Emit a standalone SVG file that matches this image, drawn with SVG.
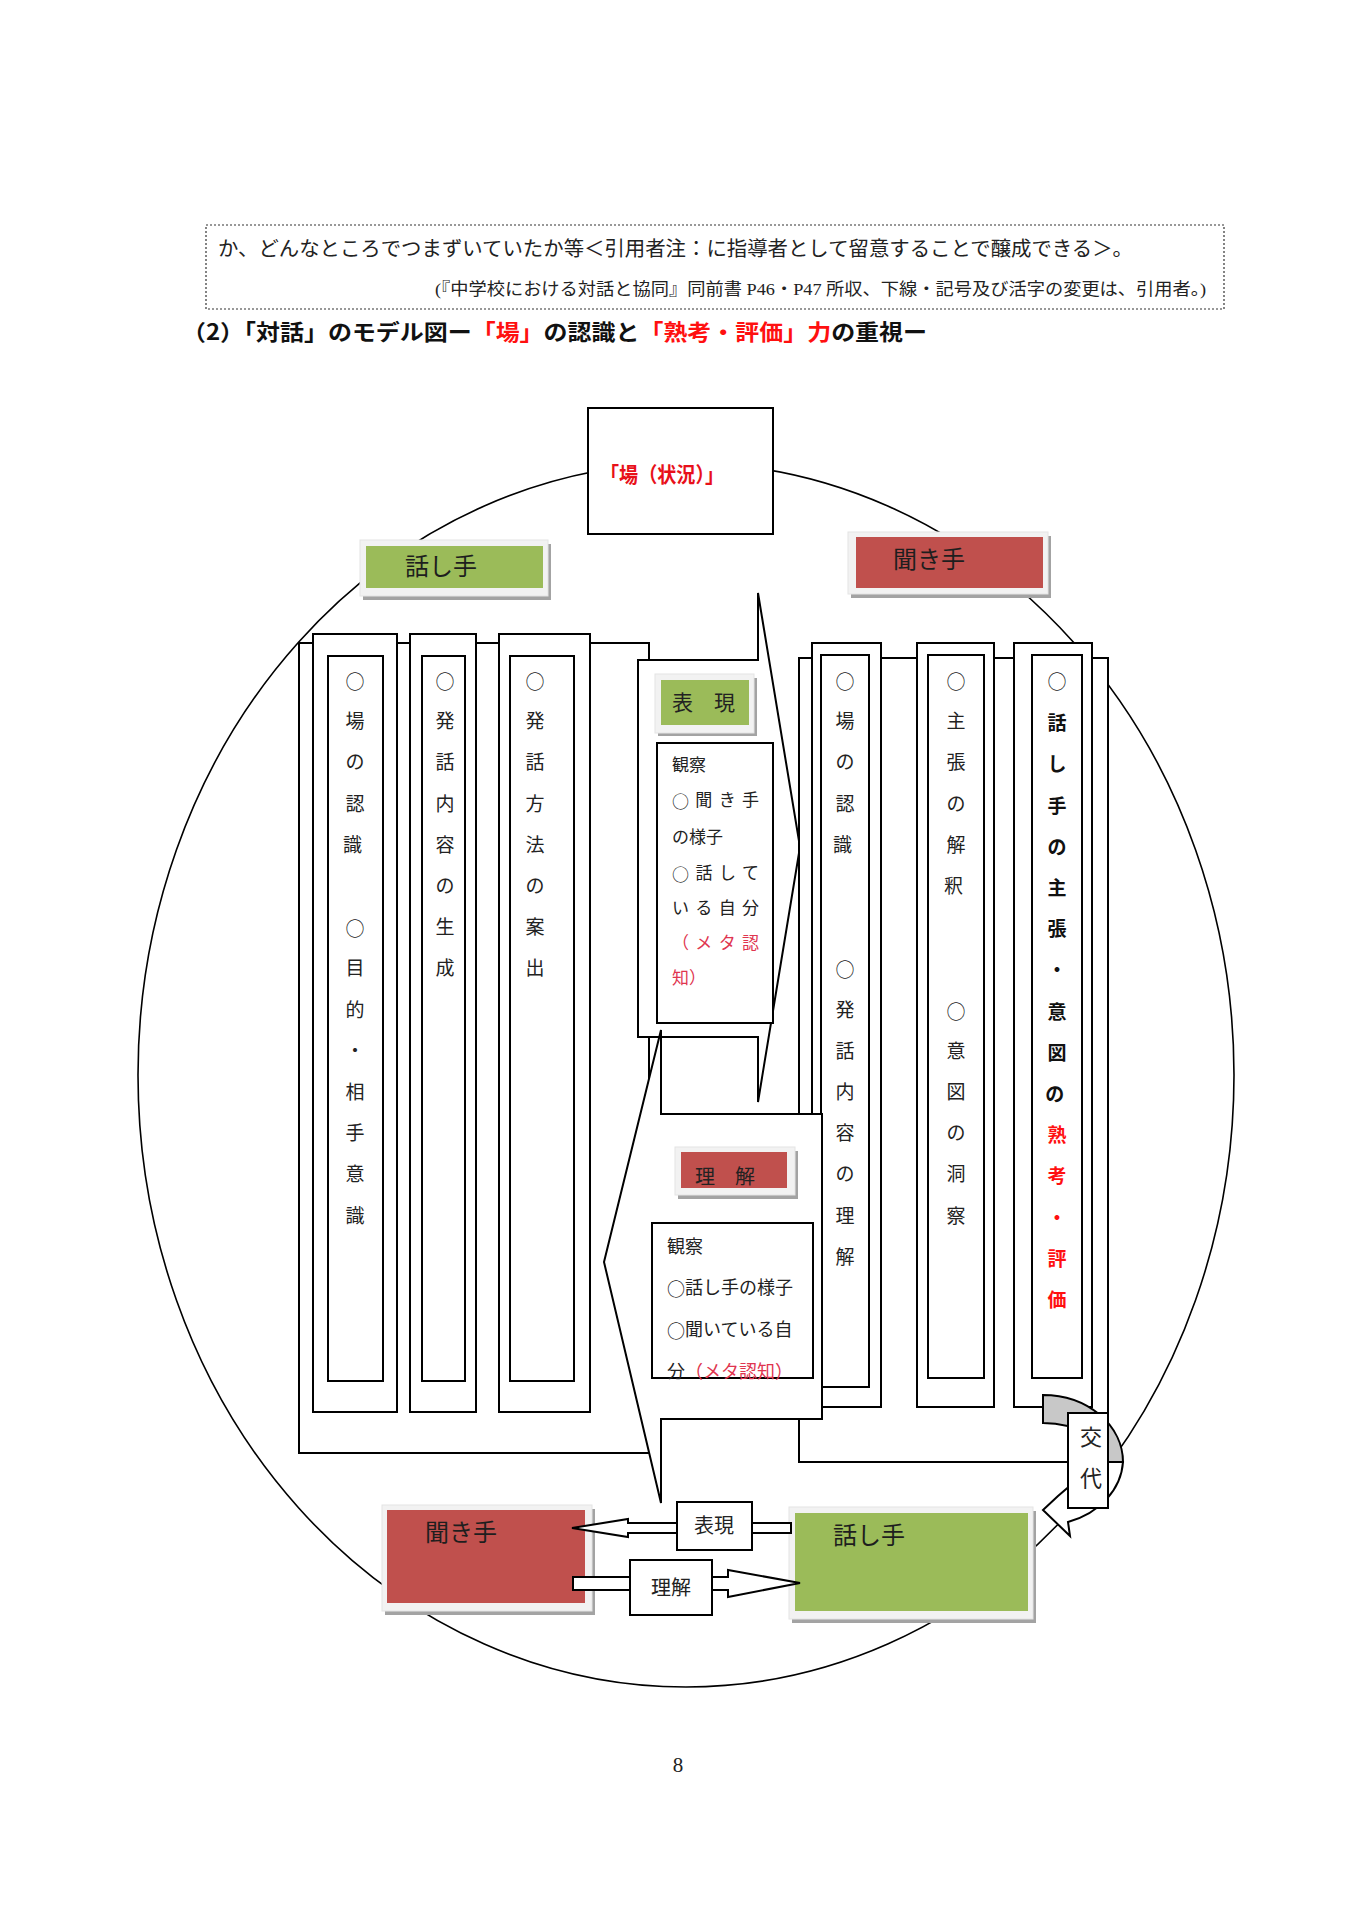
<svg xmlns="http://www.w3.org/2000/svg" width="1358" height="1920" viewBox="0 0 1358 1920">
<style>
.bg{fill:#fff}
.ln{fill:#fff;stroke:#000;stroke-width:2}
.mn{font-family:'Liberation Serif','Noto Sans CJK JP',serif;fill:#222}
.gb{font-family:'Noto Sans CJK JP','Liberation Sans',sans-serif;font-weight:700}
.cj{font-family:'Noto Sans CJK JP',sans-serif;font-weight:400}
.v{font-size:19px;text-anchor:middle;dominant-baseline:central}
.lbl{font-size:24px;dominant-baseline:central;fill:#1e1e1e}
.obs{font-size:17px;dominant-baseline:central}
.obs2{font-size:18px;dominant-baseline:central}
.red{fill:#ff1010}
.pk{fill:#e0354f}
.shadow{fill:#a3a3a3}
.frame{fill:#f2f2f2;stroke:#e4e4e4;stroke-width:1}
.gr{fill:#9bbb59}
.rd{fill:#c0504d}
</style>
<rect class="bg" x="0" y="0" width="1358" height="1920"/>

<g id="quote-box">
<rect x="206" y="225" width="1018" height="84" fill="none" stroke="#333" stroke-width="1.2" stroke-dasharray="2 2"/>
<text class="mn" x="218" y="256" font-size="20" textLength="915" lengthAdjust="spacingAndGlyphs">か、どんなところでつまずいていたか等＜引用者注：に指導者として留意することで醸成できる＞。</text>
<text class="mn" x="1206" y="295" font-size="17" text-anchor="end" textLength="771" lengthAdjust="spacingAndGlyphs">(『中学校における対話と協同』同前書 P46・P47 所収、下線・記号及び活字の変更は、引用者。)</text>
</g>

<g id="heading">
<text class="gb" x="182" y="340" font-size="22" fill="#111" textLength="745" lengthAdjust="spacingAndGlyphs">（2）「対話」のモデル図ー<tspan class="red">「場」</tspan>の認識と<tspan class="red">「熟考・評価」力</tspan>の重視ー</text>
</g>

<g id="circle">
<ellipse cx="686" cy="1075" rx="548" ry="612" fill="none" stroke="#000" stroke-width="1.6"/>
</g>

<g id="place-box">
<rect class="ln" x="588" y="408" width="185" height="126"/>
<text class="gb" x="600" y="473" font-size="21" fill="#e8101a" dominant-baseline="central" textLength="124" lengthAdjust="spacingAndGlyphs">「場（状況）」</text>
</g>

<g id="label-speaker-top">
<rect class="shadow" x="363" y="544" width="188" height="56"/>
<rect class="frame" x="360" y="540" width="188" height="56"/>
<rect class="gr" x="366" y="546" width="177" height="42"/>
<text class="mn lbl" x="405" y="567">話し手</text>
</g>

<g id="label-listener-top">
<rect class="shadow" x="851" y="536" width="200" height="62"/>
<rect class="frame" x="848" y="532" width="200" height="62"/>
<rect class="rd" x="856" y="537" width="187" height="51"/>
<text class="mn lbl" x="893" y="560">聞き手</text>
</g>

<g id="left-panel">
<rect class="ln" x="299" y="643" width="350" height="810"/>
<rect class="ln" x="313" y="634" width="84" height="778"/>
<rect class="ln" x="328" y="656" width="55" height="725"/>
<rect class="ln" x="410" y="634" width="66" height="778"/>
<rect class="ln" x="422" y="656" width="43" height="725"/>
<rect class="ln" x="499" y="634" width="91" height="778"/>
<rect class="ln" x="510" y="656" width="64" height="725"/>
<text class="mn v">
<tspan class="cj" x="355" y="680">○</tspan><tspan x="355" y="721">場</tspan><tspan x="355" y="762">の</tspan><tspan x="355" y="804">認</tspan><tspan x="355" y="845">識</tspan>
<tspan class="cj" x="355" y="927">○</tspan><tspan x="355" y="968">目</tspan><tspan x="355" y="1010">的</tspan><tspan x="355" y="1051">・</tspan><tspan x="355" y="1092">相</tspan><tspan x="355" y="1133">手</tspan><tspan x="355" y="1174">意</tspan><tspan x="355" y="1216">識</tspan>
</text>
<text class="mn v">
<tspan class="cj" x="445" y="680">○</tspan><tspan x="445" y="721">発</tspan><tspan x="445" y="762">話</tspan><tspan x="445" y="804">内</tspan><tspan x="445" y="845">容</tspan><tspan x="445" y="886">の</tspan><tspan x="445" y="927">生</tspan><tspan x="445" y="968">成</tspan>
</text>
<text class="mn v">
<tspan class="cj" x="535" y="680">○</tspan><tspan x="535" y="721">発</tspan><tspan x="535" y="762">話</tspan><tspan x="535" y="804">方</tspan><tspan x="535" y="845">法</tspan><tspan x="535" y="886">の</tspan><tspan x="535" y="927">案</tspan><tspan x="535" y="968">出</tspan>
</text>
</g>

<g id="callout-expression">
<path class="ln" d="M638,660 L758,660 L758,593 L800,847 L758,1102 L758,1037 L638,1037 Z"/>
<rect class="shadow" x="658" y="678" width="99" height="58"/>
<rect class="frame" x="655" y="674" width="99" height="59"/>
<rect class="gr" x="661" y="680" width="88" height="45"/>
<text class="mn" x="672" y="703" font-size="21" dominant-baseline="central" fill="#1e1e1e">表　現</text>
<rect class="ln" x="657" y="743" width="116" height="280"/>
<text class="mn obs" x="672" y="765">観察</text>
<text class="mn obs" x="672" y="800" textLength="87" lengthAdjust="spacing"><tspan class="cj">○</tspan>聞き手</text>
<text class="mn obs" x="672" y="837">の様子</text>
<text class="mn obs" x="672" y="873" textLength="87" lengthAdjust="spacing"><tspan class="cj">○</tspan>話して</text>
<text class="mn obs" x="672" y="908" textLength="87" lengthAdjust="spacing">いる自分</text>
<text class="mn obs pk" x="672" y="943" textLength="87" lengthAdjust="spacing">（メタ認</text>
<text class="mn obs pk" x="672" y="978">知）</text>
</g>

<g id="right-panel">
<rect class="ln" x="799" y="658" width="309" height="804"/>
<rect class="ln" x="812" y="643" width="69" height="764"/>
<rect class="ln" x="821" y="655" width="48" height="732"/>
<rect class="ln" x="917" y="643" width="77" height="764"/>
<rect class="ln" x="928" y="655" width="56" height="723"/>
<rect class="ln" x="1014" y="643" width="78" height="764"/>
<rect class="ln" x="1032" y="655" width="50" height="723"/>
<text class="mn v">
<tspan class="cj" x="845" y="680">○</tspan><tspan x="845" y="721">場</tspan><tspan x="845" y="762">の</tspan><tspan x="845" y="804">認</tspan><tspan x="845" y="845">識</tspan>
<tspan class="cj" x="845" y="968">○</tspan><tspan x="845" y="1010">発</tspan><tspan x="845" y="1051">話</tspan><tspan x="845" y="1092">内</tspan><tspan x="845" y="1133">容</tspan><tspan x="845" y="1174">の</tspan><tspan x="845" y="1216">理</tspan><tspan x="845" y="1257">解</tspan>
</text>
<text class="mn v">
<tspan class="cj" x="956" y="680">○</tspan><tspan x="956" y="721">主</tspan><tspan x="956" y="762">張</tspan><tspan x="956" y="804">の</tspan><tspan x="956" y="845">解</tspan><tspan x="956" y="886">釈</tspan>
<tspan class="cj" x="956" y="1010">○</tspan><tspan x="956" y="1051">意</tspan><tspan x="956" y="1092">図</tspan><tspan x="956" y="1133">の</tspan><tspan x="956" y="1174">洞</tspan><tspan x="956" y="1216">察</tspan>
</text>
<text class="mn v"><tspan class="cj" x="1057" y="680">○</tspan></text>
<text class="gb v" fill="#111">
<tspan x="1057" y="721">話</tspan><tspan x="1057" y="762">し</tspan><tspan x="1057" y="804">手</tspan><tspan x="1057" y="845">の</tspan><tspan x="1057" y="886">主</tspan><tspan x="1057" y="927">張</tspan><tspan x="1057" y="968">・</tspan><tspan x="1057" y="1010">意</tspan><tspan x="1057" y="1051">図</tspan><tspan x="1057" y="1092">の</tspan>
<tspan class="red" x="1057" y="1133">熟</tspan><tspan class="red" x="1057" y="1174">考</tspan><tspan class="red" x="1057" y="1216">・</tspan><tspan class="red" x="1057" y="1257">評</tspan><tspan class="red" x="1057" y="1298">価</tspan>
</text>
</g>

<g id="callout-understanding">
<path class="ln" d="M661,1114 L822,1114 L822,1419 L661,1419 L661,1503 L604,1262 L661,1030 Z"/>
<rect class="shadow" x="678" y="1151" width="120" height="48"/>
<rect class="frame" x="675" y="1147" width="120" height="48"/>
<rect class="rd" x="681" y="1152" width="106" height="36"/>
<text class="mn" x="695" y="1177" font-size="20" dominant-baseline="central" fill="#1e1e1e">理　解</text>
<rect class="ln" x="652" y="1223" width="161" height="155"/>
<text class="mn obs2" x="667" y="1247">観察</text>
<text class="mn obs2" x="667" y="1288"><tspan class="cj">○</tspan>話し手の様子</text>
<text class="mn obs2" x="667" y="1330"><tspan class="cj">○</tspan>聞いている自</text>
<text class="mn obs2" x="667" y="1372">分<tspan class="pk">（メタ認知）</tspan></text>
</g>

<g id="turn-arrow">
<path d="M1123,1462 A80,67 0 0 1 1068,1522 L1070,1536 L1043,1510 L1058,1496 L1072,1484 L1105,1462 Z" fill="#fff" stroke="#000" stroke-width="2"/>
<path d="M1043,1395 A80,67 0 0 1 1123,1462 L1105,1462 A62,39 0 0 0 1043,1423 Z" fill="#c8c8c8" stroke="#000" stroke-width="2"/>
</g>

<g id="turn-box">
<rect class="ln" x="1068" y="1413" width="40" height="95"/>
<text class="mn" x="1091" y="1437" font-size="22" text-anchor="middle" dominant-baseline="central">交</text>
<text class="mn" x="1091" y="1478" font-size="22" text-anchor="middle" dominant-baseline="central">代</text>
</g>

<g id="listener-bottom">
<rect class="shadow" x="385" y="1509" width="210" height="106"/>
<rect class="frame" x="382" y="1505" width="210" height="106"/>
<rect class="rd" x="387" y="1510" width="198" height="93"/>
<text class="mn lbl" x="425" y="1533">聞き手</text>
</g>

<g id="speaker-bottom">
<rect class="shadow" x="792" y="1511" width="244" height="112"/>
<rect class="frame" x="789" y="1507" width="244" height="112"/>
<rect class="gr" x="795" y="1513" width="233" height="98"/>
<text class="mn lbl" x="833" y="1536">話し手</text>
</g>

<g id="connectors">
<path class="ln" d="M572,1528 L628,1519 L628,1523 L791,1523 L791,1533 L628,1533 L628,1537 Z"/>
<path class="ln" d="M573,1577 L728,1577 L728,1570 L800,1583 L728,1597 L728,1590 L573,1590 Z"/>
</g>

<g id="expr-box">
<rect class="ln" x="677" y="1502" width="75" height="48"/>
<text class="mn" x="714" y="1526" font-size="20" text-anchor="middle" dominant-baseline="central">表現</text>
</g>

<g id="und-box">
<rect class="ln" x="630" y="1560" width="82" height="55"/>
<text class="mn" x="671" y="1588" font-size="20" text-anchor="middle" dominant-baseline="central">理解</text>
</g>

<text class="mn" x="678" y="1772" font-size="21" text-anchor="middle">8</text>
</svg>
